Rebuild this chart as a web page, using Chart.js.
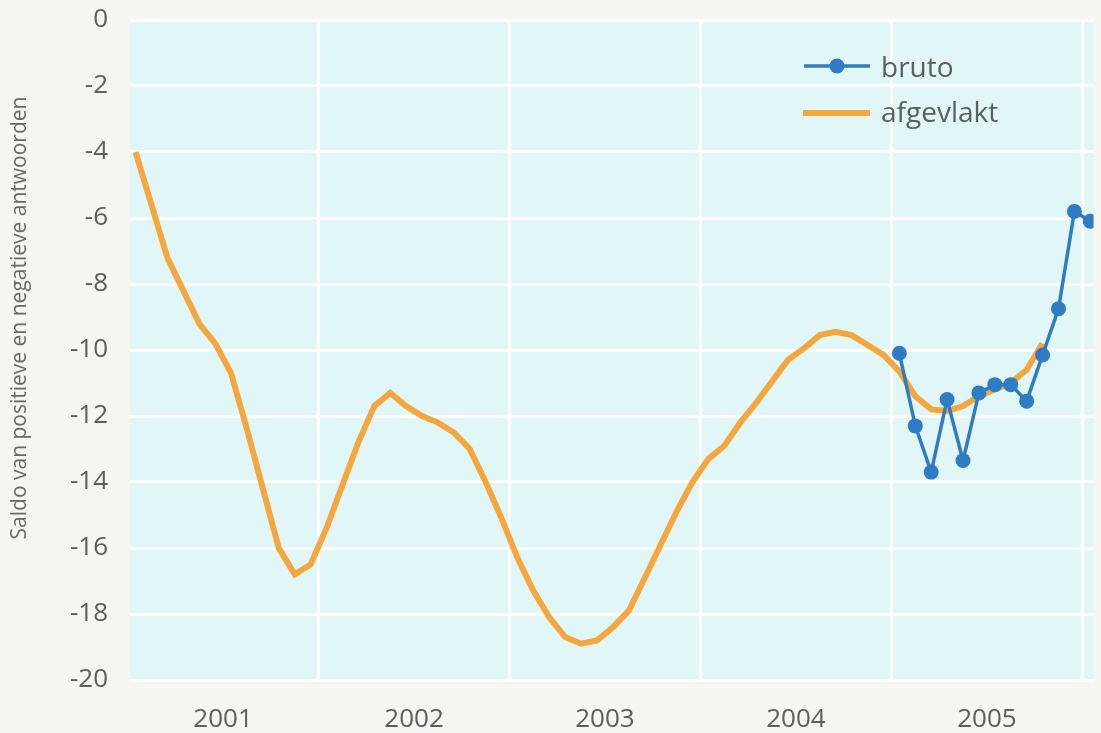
<!DOCTYPE html>
<html>
<head>
<meta charset="utf-8">
<script src="https://cdn.jsdelivr.net/npm/chart.js@4.4.1/dist/chart.umd.min.js"></script>
<style>
  html, body { margin: 0; padding: 0; background: #f5f6f2; overflow: hidden; }
  #wrap { width: 1101px; height: 733px; }
</style>
</head>
<body>
<div id="wrap"><canvas id="saldoChart"></canvas></div>
<script>
// jaren onder de x-as (elke maand is een stap, index 0 = januari 2001)
var years = ["2001", "2002", "2003", "2004", "2005"];

// afgevlakte reeks, jan 2001 t/m okt 2005
var afgevlakt = [
  -4.0, -5.6, -7.2, -8.2, -9.2, -9.8, -10.7, -12.4, -14.2, -16.0, -16.8, -16.5,
  -15.4, -14.1, -12.8, -11.7, -11.3, -11.7, -12.0, -12.2, -12.5, -13.0, -14.0, -15.1,
  -16.3, -17.3, -18.1, -18.7, -18.9, -18.8, -18.4, -17.9, -16.9, -15.9, -14.9, -14.0,
  -13.3, -12.9, -12.2, -11.6, -10.95, -10.3, -9.95, -9.55, -9.45, -9.55, -9.85, -10.15,
  -10.65, -11.4, -11.8, -11.85, -11.7, -11.4, -11.2, -11.0, -10.6, -9.8
];

// bruto reeks, jan 2005 t/m jan 2006
var brutoStart = 48;
var bruto = [-10.1, -12.3, -13.7, -11.5, -13.35, -11.3, -11.05, -11.05, -11.55, -10.15, -8.75, -5.8, -6.1];

var yTicks = [0, -2, -4, -6, -8, -10, -12, -14, -16, -18, -20];

var blue = '#2f7cc4';
var orange = '#f5a73f';
var textColor = '#5b605d';
var font = "'Open Sans', sans-serif";

var xMin = -0.35, xMax = 60.2;

// plot background
var plotBg = {
  id: 'plotBg',
  beforeDraw: function(chart) {
    var a = chart.chartArea, c = chart.ctx;
    c.save();
    c.fillStyle = '#e1f6f6';
    c.fillRect(a.left, a.top, a.right - a.left, a.bottom - a.top);
    c.restore();
  }
};

// legend inside the plot + y axis title
var extras = {
  id: 'extras',
  afterDraw: function(chart) {
    var c = chart.ctx;
    c.save();
    c.lineCap = 'butt';
    // bruto
    c.strokeStyle = blue; c.lineWidth = 3.5;
    c.beginPath(); c.moveTo(804, 66); c.lineTo(870, 66); c.stroke();
    c.fillStyle = blue;
    c.beginPath(); c.arc(837, 66, 7.5, 0, Math.PI * 2); c.fill();
    // afgevlakt
    c.strokeStyle = orange; c.lineWidth = 6;
    c.beginPath(); c.moveTo(803, 113); c.lineTo(870, 113); c.stroke();
    c.fillStyle = textColor;
    c.font = "28px " + font;
    c.textBaseline = 'alphabetic';
    c.textAlign = 'left';
    c.fillText('bruto', 881, 77);
    c.fillText('afgevlakt', 881, 122);
    // y title
    c.translate(20, 318);
    c.rotate(-Math.PI / 2);
    c.font = "21px " + font;
    c.fillStyle = '#666b68';
    c.textAlign = 'center';
    c.textBaseline = 'middle';
    c.fillText('Saldo van positieve en negatieve antwoorden', 0, 0);
    c.restore();
  }
};

var ctx = document.getElementById('saldoChart').getContext('2d');

var saldoChart = new Chart(ctx, {
  type: 'line',
  data: {
    datasets: [{
      label: 'bruto',
      data: bruto.map(function(v, i) { return { x: brutoStart + i, y: v }; }),
      borderColor: blue,
      backgroundColor: blue,
      borderWidth: 3.5,
      pointRadius: 7.5,
      pointBorderWidth: 0,
      pointBackgroundColor: blue,
      tension: 0
    }, {
      label: 'afgevlakt',
      data: afgevlakt.map(function(v, i) { return { x: i, y: v }; }),
      borderColor: orange,
      backgroundColor: orange,
      borderWidth: 6,
      pointRadius: 0,
      tension: 0
    }]
  },
  options: {
    responsive: true,
    maintainAspectRatio: false,
    animation: false,
    layout: { padding: { top: 20, left: 0, right: 0, bottom: 0 } },
    plugins: {
      legend: { display: false },
      tooltip: { enabled: false }
    },
    scales: {
      x: {
        type: 'linear',
        position: 'bottom',
        min: xMin,
        max: xMax,
        afterBuildTicks: function(scale) {
          scale.ticks = years.map(function(y, k) { return { value: 5.5 + 12 * k }; });
        },
        afterFit: function(scale) { scale.height = 53; },
        ticks: {
          autoSkip: false,
          maxRotation: 0,
          padding: 16,
          color: textColor,
          font: { family: font, size: 26 },
          callback: function(value, index) { return years[index]; }
        },
        grid: { display: false },
        border: { display: false }
      },
      xGrid: {
        type: 'linear',
        position: 'top',
        min: xMin,
        max: xMax,
        afterBuildTicks: function(scale) {
          scale.ticks = years.map(function(y, k) { return { value: 11.5 + 12 * k }; });
        },
        afterFit: function(scale) { scale.height = 0; },
        ticks: { display: false },
        grid: { color: '#ffffff', lineWidth: 3, drawTicks: false },
        border: { display: false }
      },
      y: {
        min: -20,
        max: 0,
        afterBuildTicks: function(scale) {
          scale.ticks = yTicks.map(function(v) { return { value: v }; });
        },
        afterFit: function(scale) {
          scale.width = 130;
          scale.paddingTop = 0;
          scale.paddingBottom = 0;
        },
        ticks: {
          padding: 22,
          color: textColor,
          font: { family: font, size: 26 }
        },
        grid: { color: '#ffffff', lineWidth: 3, drawTicks: false },
        border: { display: false }
      }
    }
  },
  plugins: [plotBg, extras]
});
</script>
</body>
</html>
